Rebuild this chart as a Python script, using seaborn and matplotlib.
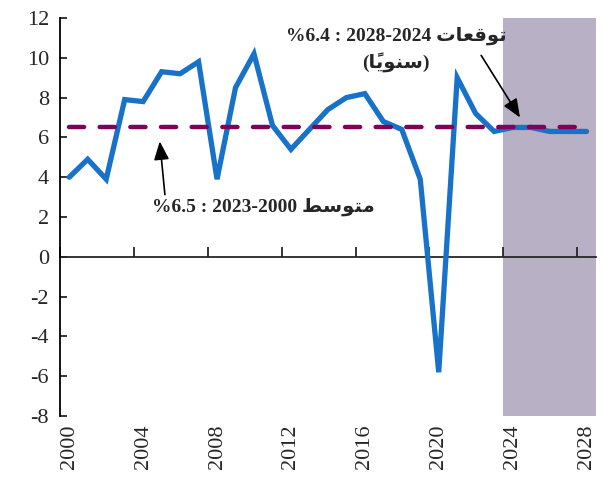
import matplotlib
matplotlib.use("Agg")
import matplotlib.pyplot as plt
import pandas as pd
import seaborn as sns

# data
years = list(range(2000, 2029))
growth = [4.0, 4.9, 3.9, 7.9, 7.8, 9.3, 9.2, 9.8, 3.9, 8.5, 10.2, 6.6, 5.4, 6.4,
          7.4, 8.0, 8.2, 6.8, 6.4, 3.9, -5.8, 9.0, 7.2, 6.3, 6.5, 6.5, 6.3, 6.3, 6.3]
avg_hist = 6.5
forecast_start = 2024
tick_years = list(range(2000, 2029, 4))
y_ticks = list(range(-8, 13, 2))

# minimal arabic shaping (matplotlib has no bidi / joining)
FORMS = {  # isolated, final, initial, medial
    "ا": (0xFE8D, 0xFE8E, None, None),
    "و": (0xFEED, 0xFEEE, None, None),
    "ت": (0xFE95, 0xFE96, 0xFE97, 0xFE98),
    "س": (0xFEB1, 0xFEB2, 0xFEB3, 0xFEB4),
    "ط": (0xFEC1, 0xFEC2, 0xFEC3, 0xFEC4),
    "ع": (0xFEC9, 0xFECA, 0xFECB, 0xFECC),
    "ق": (0xFED5, 0xFED6, 0xFED7, 0xFED8),
    "م": (0xFEE1, 0xFEE2, 0xFEE3, 0xFEE4),
    "ن": (0xFEE5, 0xFEE6, 0xFEE7, 0xFEE8),
    "ي": (0xFEF1, 0xFEF2, 0xFEF3, 0xFEF4),
}
MARKS = "\u064B"


def rtl(word):
    groups = []
    for c in word:
        if c in MARKS and groups:
            groups[-1][1] += c
        else:
            groups.append([c, ""])
    out = []
    for k, (c, m) in enumerate(groups):
        f = FORMS.get(c)
        if f is None:
            out.append(c + m)
            continue
        prev = k > 0 and groups[k - 1][0] in FORMS and FORMS[groups[k - 1][0]][2] is not None
        nxt = k < len(groups) - 1 and groups[k + 1][0] in FORMS and f[2] is not None
        if prev and nxt:
            g = f[3]
        elif prev:
            g = f[1]
        elif nxt:
            g = f[2]
        else:
            g = f[0]
        out.append(chr(g) + m)
    return "".join(reversed(out))


label_avg = "%6.5 : 2023-2000 " + rtl("متوسط")
label_fc = "%6.4 : 2028-2024 " + rtl("توقعات") + "\n(" + rtl("سنوياً") + ")"

df = pd.DataFrame({"year": years, "growth": growth})

sns.set_style("white")
plt.rcParams["font.family"] = ["Liberation Serif", "DejaVu Sans"]

fig = plt.figure(figsize=(6.03, 4.8), dpi=100)
ax = fig.add_axes([0.0995, 0.1333, 0.8885, 0.8292])

ax.axvspan(forecast_start - 0.5, years[-1] + 0.5, color="#b8b0c4", lw=0, zorder=0)
sns.lineplot(data=df, x="year", y="growth", ax=ax, color="#1872c9", lw=3.8,
             solid_joinstyle="miter", zorder=3)
ax.hlines(avg_hist, years[0], years[-1], color="#80005a", lw=3.2,
          linestyles=(0, (3.4, 3.5)), capstyle="round", zorder=4)

ax.set_xlim(years[0] - 0.5, years[-1] + 0.5)
ax.set_ylim(-8, 12)
ax.set_xlabel("")
ax.set_ylabel("")

for s in ["top", "right", "bottom"]:
    ax.spines[s].set_visible(False)
ax.spines["left"].set_color("black")
ax.spines["left"].set_linewidth(1.3)

ax.set_yticks(y_ticks)
ax.set_yticklabels([str(v) for v in y_ticks])
ax.tick_params(axis="y", direction="in", length=5, width=1.3, labelsize=16, pad=8, left=True)
ax.set_xticks(tick_years)
ax.set_xticklabels([str(v) for v in tick_years], rotation=90)
ax.tick_params(axis="x", length=0, labelsize=16, pad=6)

# zero line with category boundary ticks
sec = ax.secondary_xaxis(-(-8) / 20)
sec.spines["bottom"].set_linewidth(1.3)
sec.set_xticks([y - 0.5 for y in tick_years], labels=[])
sec.tick_params(direction="in", length=7, width=1.3)

head = "-|>,head_length=0.8,head_width=0.33"
ax.annotate(label_avg, xy=(2004.9, 5.8), xytext=(2010.5, 2.5), ha="center", va="center",
            fontsize=14, fontweight="bold",
            arrowprops=dict(arrowstyle=head, color="black",
                            lw=1.2, shrinkA=0, shrinkB=0, relpos=(0.06, 1.0)))
ax.annotate(label_fc, xy=(2024.4, 7.0), xytext=(2017.7, 10.4), ha="center", va="center",
            fontsize=14, fontweight="bold", linespacing=1.5,
            arrowprops=dict(arrowstyle=head, color="black", patchA=None,
                            lw=1.2, shrinkA=0, shrinkB=0, relpos=(0.885, 0.38)))

fig.savefig("out.png", dpi=100)
